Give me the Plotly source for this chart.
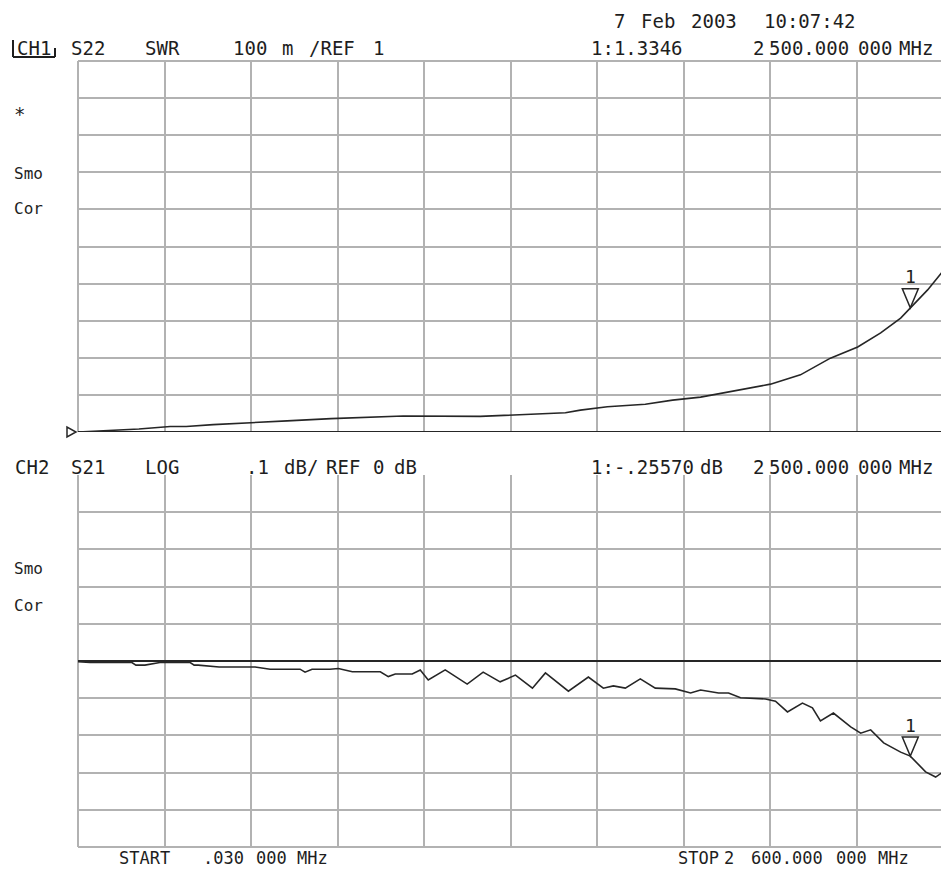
import plotly.graph_objects as go

# ---- sweep -----------------------------------------------------------
start_mhz = 0.03
stop_mhz = 2600.0
n_div = 10

# ---- CH1: S22 SWR, 100 m/div, REF 1 on the bottom graticule line ------
swr_ref = 1.0
swr_per_div = 0.1
swr_freq = [0.03, 27, 183, 277, 325, 406, 502, 628, 760, 977, 1208, 1353, 1464,
            1509, 1590, 1704, 1786, 1870, 2080, 2170, 2260, 2342, 2411, 2471,
            2500, 2552, 2594]
swr_val = [1.000, 1.001, 1.008, 1.015, 1.015, 1.020, 1.025, 1.030, 1.036, 1.043,
           1.042, 1.048, 1.052, 1.059, 1.068, 1.075, 1.086, 1.094, 1.129, 1.154,
           1.199, 1.229, 1.267, 1.307, 1.3346, 1.383, 1.429]

# ---- CH2: S21 LOG MAG, .1 dB/div, REF 0 dB on the centre line -----------
s21_ref = 0.0
s21_per_div = 0.1
s21_freq = [0.03, 36, 75, 162, 174, 201, 246, 337, 349, 361, 424, 499, 532, 577,
            667, 682, 703, 757, 782, 824, 908, 932, 953, 1004, 1028, 1052, 1103,
            1169, 1217, 1268, 1314, 1365, 1404, 1473, 1533, 1578, 1608, 1644, 1689,
            1734, 1794, 1840, 1870, 1924, 1954, 1990, 2065, 2095, 2131, 2176, 2206,
            2230, 2269, 2321, 2351, 2381, 2420, 2471, 2500, 2546, 2576, 2594]
s21_db = [-0.002, -0.004, -0.004, -0.004, -0.011, -0.011, -0.004, -0.004, -0.011,
          -0.011, -0.016, -0.016, -0.016, -0.022, -0.022, -0.030, -0.022, -0.022,
          -0.020, -0.029, -0.029, -0.042, -0.035, -0.035, -0.024, -0.051, -0.024,
          -0.062, -0.030, -0.056, -0.038, -0.073, -0.032, -0.081, -0.043, -0.073,
          -0.067, -0.073, -0.048, -0.073, -0.075, -0.086, -0.078, -0.086, -0.086,
          -0.099, -0.102, -0.108, -0.137, -0.113, -0.126, -0.161, -0.140, -0.177,
          -0.194, -0.185, -0.220, -0.245, -0.2557, -0.298, -0.312, -0.301]

# ---- marker 1 ------------------------------------------------------------
marker_mhz = 2500.0
swr_marker = 1.3346
s21_marker = -0.2557

# ---- page geometry (pixels) ----------------------------------------------
W, H = 941, 869
grid_left = 78
grid_right = 943.6            # the graticule runs just past the page edge
top_panel = (61, 432)
bot_panel = (475, 847)

TRACE = "#262626"
GRID = "#b2b2b2"
TEXT = "#1e1e1e"
FONT = "DejaVu Sans Mono"

span = stop_mhz - start_mhz
f_edge = start_mhz + span * (W - grid_left) / (grid_right - grid_left)
x_grid = [start_mhz + i * span / n_div for i in range(n_div)]


def py(p):
    return 1 - p / H


def px(p):
    return p / W


fig = go.Figure()

fig.add_trace(go.Scatter(x=swr_freq, y=swr_val, mode="lines",
                         line=dict(color=TRACE, width=1.6),
                         xaxis="x", yaxis="y", hoverinfo="skip"))
fig.add_trace(go.Scatter(x=s21_freq, y=s21_db, mode="lines",
                         line=dict(color=TRACE, width=1.6),
                         xaxis="x2", yaxis="y2", hoverinfo="skip"))

xcommon = dict(range=[start_mhz, f_edge], domain=[px(grid_left), 1],
               tickvals=x_grid, showticklabels=False, ticks="",
               showgrid=True, gridcolor=GRID, gridwidth=2,
               zeroline=False, showline=False, fixedrange=True)

top_lo = swr_ref
top_hi = swr_ref + n_div * swr_per_div
bot_lo = s21_ref - n_div / 2 * s21_per_div
bot_hi = s21_ref + n_div / 2 * s21_per_div

fig.update_layout(
    width=W, height=H,
    margin=dict(l=0, r=0, t=0, b=0),
    paper_bgcolor="white", plot_bgcolor="white",
    showlegend=False,
    xaxis=dict(anchor="y", **xcommon),
    xaxis2=dict(anchor="y2", **xcommon),
    yaxis=dict(range=[top_lo, top_hi],
               domain=[py(top_panel[1]), py(top_panel[0])],
               tickvals=[top_lo + i * swr_per_div for i in range(n_div + 1)],
               showticklabels=False, ticks="", showgrid=True,
               gridcolor=GRID, gridwidth=2, zeroline=False, anchor="x",
               fixedrange=True),
    yaxis2=dict(range=[bot_lo, bot_hi],
                domain=[py(bot_panel[1]), py(bot_panel[0])],
                tickvals=[bot_lo + i * s21_per_div for i in range(n_div)],
                showticklabels=False, ticks="", showgrid=True,
                gridcolor=GRID, gridwidth=2, zeroline=False, anchor="x2",
                fixedrange=True),
)

shapes = []
# graticule frame edges
for xr, yr in (("x domain", "y domain"), ("x2 domain", "y2 domain")):
    shapes.append(dict(type="line", xref=xr, yref=yr, x0=0, x1=0, y0=0, y1=1,
                       line=dict(color=GRID, width=2), layer="below"))
shapes.append(dict(type="line", xref="x domain", yref="y domain",
                   x0=0, x1=1, y0=1, y1=1, line=dict(color=GRID, width=2),
                   layer="below"))
shapes.append(dict(type="line", xref="x2 domain", yref="y2 domain",
                   x0=0, x1=1, y0=0, y1=0, line=dict(color=GRID, width=2),
                   layer="below"))
# reference level lines
shapes.append(dict(type="line", xref="x domain", yref="y", x0=0, x1=1,
                   y0=swr_ref, y1=swr_ref, line=dict(color=TRACE, width=2)))
shapes.append(dict(type="line", xref="x2 domain", yref="y2", x0=0, x1=1,
                   y0=s21_ref, y1=s21_ref, line=dict(color=TRACE, width=2)))
# reference position arrow on CH1 (sits just left of the graticule)
ref_frac = (swr_ref - top_lo) / (top_hi - top_lo)
shapes.append(dict(type="path", xref="x domain", yref="y domain",
                   xsizemode="pixel", ysizemode="pixel",
                   xanchor=0, yanchor=ref_frac,
                   path="M -11,5 L -11,-5 L -2,0 Z",
                   line=dict(color=TRACE, width=1.5), fillcolor="white"))
# marker 1 triangles
for xr, yr, val in (("x", "y", swr_marker), ("x2", "y2", s21_marker)):
    shapes.append(dict(type="path", xref=xr, yref=yr,
                       xsizemode="pixel", ysizemode="pixel",
                       xanchor=marker_mhz, yanchor=val,
                       path="M -8,19 L 8,19 L 0,0 Z",
                       line=dict(color=TRACE, width=1.5), fillcolor="rgba(0,0,0,0)"))
# CH1 active-channel bracket
for x0, y0, x1, y1 in ((13, 40, 13, 57), (13, 57, 55, 57), (55, 48, 55, 57)):
    shapes.append(dict(type="line", xref="paper", yref="paper",
                       x0=px(x0), x1=px(x1), y0=py(y0), y1=py(y1),
                       line=dict(color=TEXT, width=2)))
fig.update_layout(shapes=shapes)

ann = []


def label(text, x, y, size=19):
    ann.append(dict(text=text, x=px(x), y=py(y), xref="paper", yref="paper",
                    xanchor="left", yanchor="middle", showarrow=False,
                    borderpad=0,
                    font=dict(family=FONT, size=size, color=TEXT)))


def mhz_words(f):
    whole = int(f)
    frac = f - whole
    s = f"{whole:,}".replace(",", " ")
    d = f"{frac:.6f}"[1:]
    return s + d[:4], d[4:]


# date line
for t, x in (("7", 613), ("Feb", 640), ("2003", 690), ("10:07:42", 763)):
    label(t, x, 21)

# channel header lines
mk_words = mhz_words(marker_mhz)           # ("2 500.000", "000")
mk_a, mk_b = mk_words[0].split(" ")
swr_read = f"1:{swr_marker:.4f}"
s21_read = "1:" + f"{s21_marker:.5f}".replace("-0.", "-.")

for t, x in (("CH1", 16), ("S22", 70), ("SWR", 144), ("100", 232), ("m", 281),
             ("/REF", 308), ("1", 372), (swr_read, 590),
             (mk_a, 752), (mk_b, 768), (mk_words[1], 857), ("MHz", 898)):
    label(t, x, 48)

for t, x in (("CH2", 14), ("S21", 70), ("LOG", 144), (".1", 245), ("dB/", 283),
             ("REF", 325), ("0", 372), ("dB", 393), (s21_read, 590),
             ("dB", 699), (mk_a, 752), (mk_b, 768), (mk_words[1], 857),
             ("MHz", 898)):
    label(t, x, 467)

# side annotations
label("*", 13, 114)
label("Smo", 13, 173, 16)
label("Cor", 13, 208, 16)
label("Smo", 13, 568, 16)
label("Cor", 13, 605, 16)

# start / stop
st_a, st_b = mhz_words(stop_mhz)
st_1, st_2 = st_a.split(" ")
for t, x in (("START", 118), (".030", 202), ("000", 255), ("MHz", 296),
             ("STOP", 677), (st_1, 723), (st_2, 750), (st_b, 835), ("MHz", 877)):
    label(t, x, 858, 17)

# marker numbers above the triangles
for xr, yr, val in (("x", "y", swr_marker), ("x2", "y2", s21_marker)):
    ann.append(dict(text="1", x=marker_mhz, y=val, xref=xr, yref=yr,
                    showarrow=False, yshift=31,
                    font=dict(family=FONT, size=18, color=TEXT)))

fig.update_layout(annotations=ann)

fig.write_html("out.html")
